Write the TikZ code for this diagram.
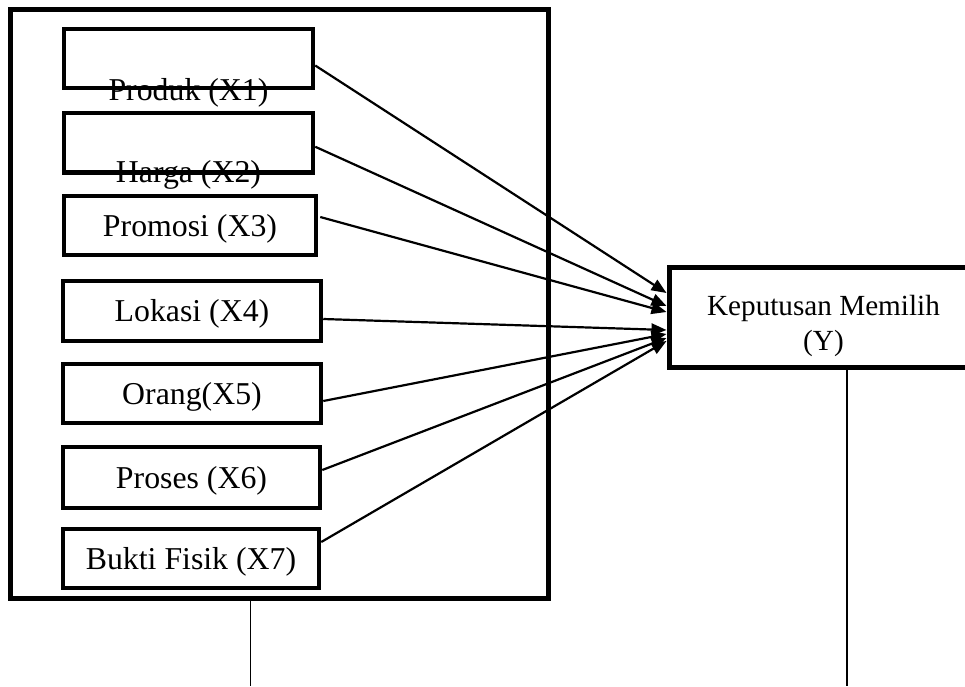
\documentclass[tikz,border=0pt]{standalone}
\usepackage{fontspec}
\setmainfont{Liberation Serif}
\usetikzlibrary{arrows.meta,calc}
\begin{document}
\begin{tikzpicture}[x=1pt,y=-1pt,
  framebox/.style={draw=black,line width=5,inner sep=0,outer sep=0,rectangle},
  xbox/.style={draw=black,line width=4.5,inner sep=0,rectangle,
    font=\fontsize{31.8}{38}\selectfont,text height=21,text depth=0},
  xlabel/.style={inner sep=0,font=\fontsize{31.8}{38}\selectfont,anchor=base},
  ybox/.style={draw=black,line width=5,inner sep=0,rectangle},
  ylabel/.style={inner sep=0,font=\fontsize{29.2}{35}\selectfont,align=center},
  conn/.style={line width=2.2,-{Triangle[length=15,width=12]}},
  stem/.style={line width=1.5}]
\useasboundingbox (0,0) rectangle (965,686);
\clip (0,0) rectangle (965,686);
\fill[white] (0,0) rectangle (965,686);
% outer frame
\node[framebox,minimum width=538,minimum height=589] (outer) at (279.5,304) {};
% X boxes
\node[xbox,minimum width=249,minimum height=59] (X1) at (188.5,58.5) {};
\node[xbox,minimum width=249,minimum height=59.5] (X2) at (188.5,142.75) {};
\node[xlabel] (X1t) at (188.5,100.7) {Produk (X1)};
\node[xlabel] (X2t) at (188.5,182.7) {Harga (X2)};
\node[xbox,minimum width=252,minimum height=59] (X3) at (190,225.5) {Promosi (X3)};
\node[xbox,minimum width=258,minimum height=60] (X4) at (192,311) {Lokasi (X4)};
\node[xbox,minimum width=258,minimum height=59] (X5) at (192,393.5) {Orang(X5)};
\node[xbox,minimum width=257,minimum height=61] (X6) at (191.5,477.5) {Proses (X6)};
\node[xbox,minimum width=256,minimum height=59] (X7) at (191,558.5) {Bukti Fisik (X7)};
% Y box
\node[ybox,minimum width=310,minimum height=100] (Y) at (824,317) {};
\node[ylabel,anchor=north] (Yt) at (823.5,295) {Keputusan Memilih\\(Y)};
% arrows
\draw[conn] ($(X1.east)+(0,7)$) -- ($(Y.west)+(0,-24)$);
\draw[conn] ($(X2.east)+(0,4)$) -- ($(Y.west)+(0,-11)$);
\draw[conn] ($(X3.east)+(2,-8.5)$) -- ($(Y.west)+(0,-5)$);
\draw[conn] ($(X4.east)+(0,8)$) -- ($(Y.west)+(0,13)$);
\draw[conn] ($(X5.east)+(0,7.5)$) -- ($(Y.west)+(0,17)$);
\draw[conn] ($(X6.east)+(0,-7.5)$) -- ($(Y.west)+(0,21)$);
\draw[conn] ($(X7.east)+(0,-16.5)$) -- ($(Y.west)+(0,24)$);
% stems
\coordinate (ob) at (250.5,686);
\coordinate (yb) at (847,686);
\draw[stem] (ob |- outer.south) -- (ob);
\draw[stem] (yb |- Y.south) -- (yb);
\end{tikzpicture}
\end{document}
